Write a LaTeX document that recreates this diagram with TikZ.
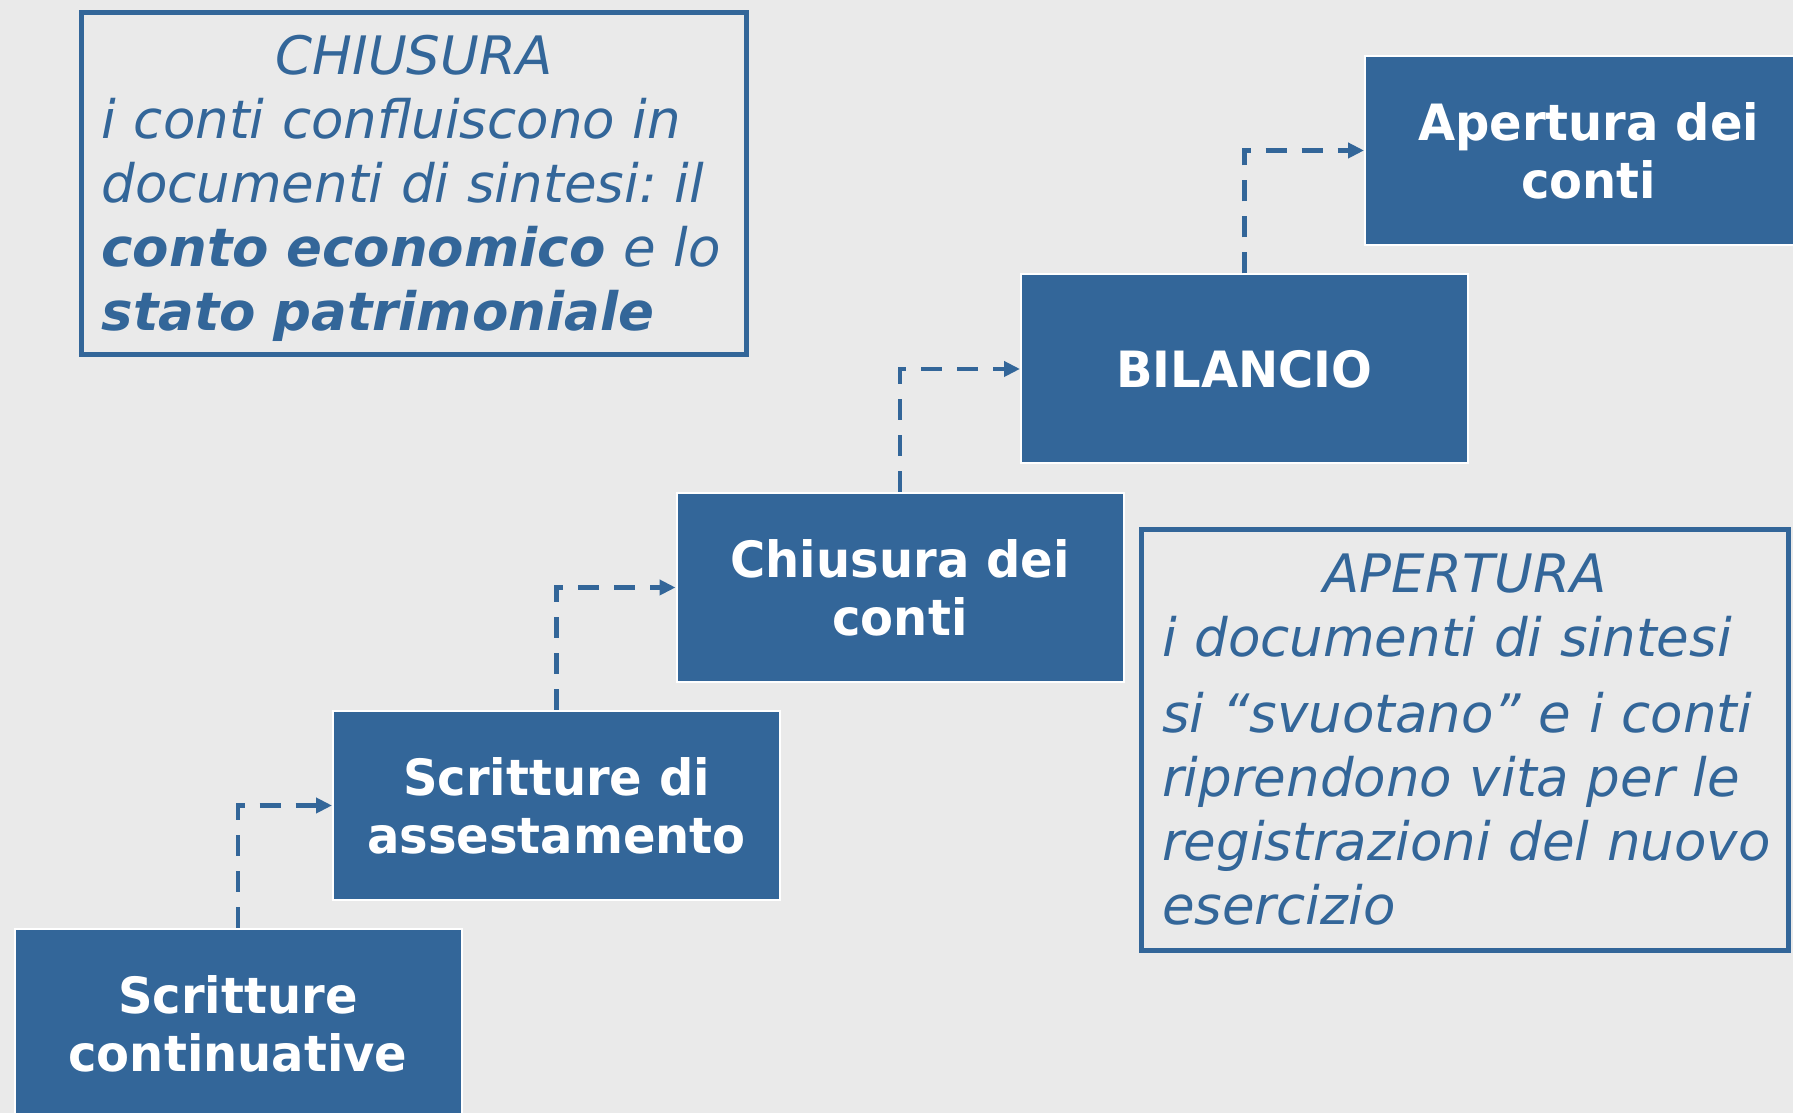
\documentclass[tikz,border=0pt]{standalone}
\usepackage{fontspec}
\setmainfont{DejaVu Sans}
\newfontfamily\phasefont[FakeStretch=0.96]{DejaVu Sans}
\usetikzlibrary{arrows.meta,positioning}
\definecolor{boxblue}{HTML}{336699}
\definecolor{slidegray}{HTML}{EAEAEA}
\frenchspacing

\begin{document}
\begin{tikzpicture}[
  x=0.5pt, y=0.5pt,
  phase/.style={rectangle, draw=white, line width=1pt, fill=boxblue,
                text=white, align=center, inner sep=0pt,
                minimum width=223.5pt, minimum height=94.5pt,
                font=\phasefont\bfseries\fontsize{25}{29}\selectfont},
  note/.style={rectangle, draw=boxblue, line width=2.5pt, text=boxblue,
               align=left, inner xsep=10pt, inner ysep=0pt,
               font=\itshape\fontsize{26.5}{32}\selectfont},
  arrow/.style={-{Triangle[length=8pt,width=7.5pt]}, draw=boxblue,
                line width=2.25pt, dash pattern=on 10.5pt off 7.5pt},
]
  \fill[slidegray] (0,0) rectangle (1793,1113);
  \useasboundingbox (0,0) rectangle (1793,1113);
  \clip (0,0) rectangle (1793,1113);

  % steps of the accounting cycle
  \node[phase] (cont) at (238,89.5)    {Scritture\\continuative};
  \node[phase] (asse) at (556.5,307.5) {Scritture di\\assestamento};
  \node[phase] (chiu) at (900,525.5)   {Chiusura dei\\conti};
  \node[phase] (bil)  at (1244.5,744)  {BILANCIO};
  \node[phase] (aper) at (1588.5,962.5) {Apertura dei\\conti};

  \draw[arrow] (cont.north) |- (asse.west);
  \draw[arrow] (asse.north) |- (chiu.west);
  \draw[arrow] (chiu.north) |- (bil.west);
  \draw[arrow] (bil.north)  |- (aper.west);

  % explanations
  \node[note, minimum width=332.5pt, minimum height=171pt,
        text width=312.5pt] (chiusnote) at (414,929.5)
    {{\centering\rule{0pt}{25pt}CHIUSURA\par}i conti confluiscono in\\
     documenti di sintesi: il\\\textbf{conto economico} e lo\\
     \textbf{stato patrimoniale}};
  \node[note, minimum width=323.5pt, minimum height=210.5pt,
        text width=303pt] (apernote) at (1465,373)
    {{\centering APERTURA\par}i documenti di sintesi\\[6pt]
     si “svuotano” e i conti\\riprendono vita per le\\
     \mbox{registrazioni del nuovo}\\esercizio};
\end{tikzpicture}
\end{document}
